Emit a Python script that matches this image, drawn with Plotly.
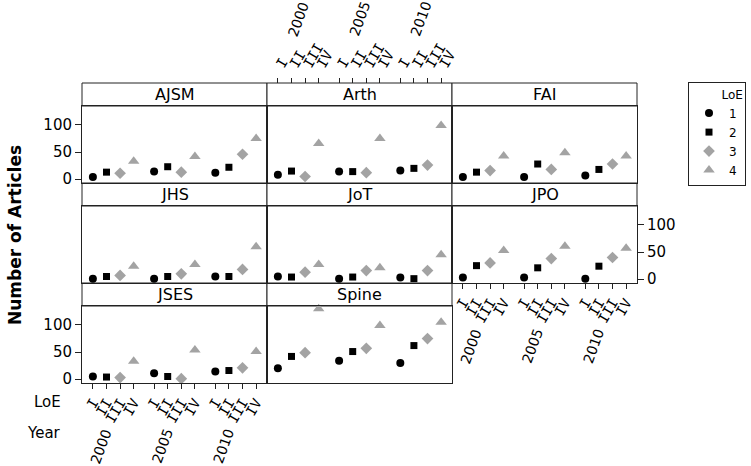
import plotly.graph_objects as go

# ---------------- data ----------------
journals = ["AJSM", "Arth", "FAI", "JHS", "JoT", "JPO", "JSES", "Spine"]
years = [2000, 2005, 2010]
loe_ticks = ["I", "II", "III", "IV"]
loe_names = ["1", "2", "3", "4"]
y_ticks = [0, 50, 100]

# number of articles: one list per year, entries for LoE 1..4
AJSM = [[4, 13, 11, 33], [14, 23, 13, 42], [12, 22, 46, 75]]
Arth = [[8, 15, 5, 66], [14, 14, 12, 75], [16, 20, 26, 99]]
FAI = [[4, 13, 16, 43], [4, 28, 18, 49], [7, 18, 28, 43]]
JHS = [[1, 5, 7, 24], [1, 5, 10, 27], [5, 5, 18, 60]]
JoT = [[5, 4, 13, 27], [1, 4, 16, 21], [3, 1, 16, 45]]
JPO = [[3, 25, 30, 53], [3, 21, 38, 61], [1, 24, 40, 57]]
JSES = [[5, 4, 3, 33], [11, 5, 1, 54], [14, 16, 21, 51]]
Spine = [[20, 42, 49, 130], [34, 51, 57, 99], [30, 62, 75, 105]]
values = [AJSM, Arth, FAI, JHS, JoT, JPO, JSES, Spine]

# ---------------- styling ----------------
W, H = 751, 466
FONT = "DejaVu Sans"
MONO = "DejaVu Sans Mono"
LINE = "#222222"
GRAY = "#a3a3a3"
symbols = ["circle", "square", "diamond", "triangle-up"]
colors = ["black", "black", GRAY, GRAY]
sizes = [8, 7, 9, 10]

GROUP_STEP = 4.5
X_RANGE = [-0.8, 12.8]
def xpos(yi, li):
    return yi * GROUP_STEP + li

tick_x = [xpos(yi, li) for yi in range(len(years)) for li in range(len(loe_ticks))]
tick_t = [loe_ticks[li] for yi in range(len(years)) for li in range(len(loe_ticks))]
group_centers = [xpos(yi, 1.5) for yi in range(len(years))]

COL_X0, COL_W = 82, 185
ROW_Y0, STRIP_H, PLOT_H = 83, 23, 77
ROW_H = STRIP_H + PLOT_H

fig = go.Figure()
layout = {}
shapes = []
annotations = []

loe_tickfont = dict(family=MONO, size=14, color="black")

for k, name in enumerate(journals):
    r, c = divmod(k, 3)
    xid = "x" if k == 0 else f"x{k+1}"
    yid = "y" if k == 0 else f"y{k+1}"
    xkey = "xaxis" if k == 0 else f"xaxis{k+1}"
    ykey = "yaxis" if k == 0 else f"yaxis{k+1}"

    px0 = COL_X0 + COL_W * c
    px1 = px0 + COL_W
    strip_top = ROW_Y0 + ROW_H * r
    plot_top = strip_top + STRIP_H
    plot_bot = plot_top + PLOT_H

    for li in range(4):
        xs = [xpos(yi, li) for yi in range(len(years))]
        ys = [values[k][yi][li] for yi in range(len(years))]
        fig.add_trace(go.Scatter(
            x=xs, y=ys, mode="markers", xaxis=xid, yaxis=yid,
            name=loe_names[li], legendgroup=loe_names[li], showlegend=(k == 0),
            cliponaxis=False,
            marker=dict(symbol=symbols[li], color=colors[li], size=sizes[li],
                        line=dict(width=0)),
            hoverinfo="skip"))

    xa = dict(domain=[px0 / W, px1 / W], range=X_RANGE, anchor=yid,
              showgrid=False, zeroline=False, showline=True, mirror=True,
              linecolor=LINE, linewidth=1, tickvals=tick_x, ticktext=tick_t,
              ticks="", showticklabels=False, tickangle=-60,
              tickfont=loe_tickfont,
              ticklen=5, tickcolor=LINE, automargin=False, fixedrange=True)
    if name in ("JSES", "JPO"):
        xa.update(side="bottom", ticks="outside", showticklabels=True)

    ya = dict(domain=[1 - plot_bot / H, 1 - plot_top / H], range=[-7, 135],
              anchor=xid, showgrid=False, zeroline=False, showline=True,
              mirror=True, linecolor=LINE, linewidth=1, tickvals=y_ticks,
              ticks="", showticklabels=False,
              tickfont=dict(family=FONT, size=15, color="black"),
              ticklen=6, tickcolor=LINE, automargin=False, fixedrange=True)
    if name in ("AJSM", "JSES"):
        ya.update(side="left", ticks="outside", showticklabels=True)
    if name == "JPO":
        ya.update(side="right", ticks="outside", showticklabels=True)

    layout[xkey] = xa
    layout[ykey] = ya

    # top axis above the Arth strip (overlaying axis positioned at strip top)
    if name == "Arth":
        layout["xaxis9"] = dict(overlaying=xid, anchor="free",
                                position=1 - strip_top / H, side="top",
                                range=X_RANGE, showgrid=False, zeroline=False,
                                showline=False, tickvals=tick_x, ticktext=tick_t,
                                ticks="outside", ticklen=5, tickcolor=LINE,
                                tickangle=-60, tickfont=loe_tickfont,
                                automargin=False, fixedrange=True)
        fig.add_trace(go.Scatter(x=tick_x, y=[None] * len(tick_x), xaxis="x9",
                                 yaxis=yid, mode="markers", showlegend=False,
                                 hoverinfo="skip"))

    # strip
    shapes.append(dict(type="rect", xref="paper", yref="paper",
                       x0=px0 / W, x1=px1 / W,
                       y0=1 - plot_top / H, y1=1 - strip_top / H,
                       line=dict(color=LINE, width=1), fillcolor="white",
                       layer="below"))
    annotations.append(dict(text=name, xref="paper", yref="paper",
                            x=(px0 + px1) / 2 / W,
                            y=1 - (strip_top + STRIP_H / 2) / H,
                            showarrow=False, xanchor="center", yanchor="middle",
                            font=dict(family=FONT, size=16, color="black")))

    # year labels
    if name in ("JSES", "JPO"):
        ypix = plot_bot + 41
        for yi, yr in enumerate(years):
            annotations.append(dict(text=str(yr), xref=xid, yref="paper",
                                    x=group_centers[yi], y=1 - ypix / H,
                                    xshift=-12, showarrow=False, textangle=-70,
                                    xanchor="center", yanchor="top",
                                    font=dict(family=FONT, size=14, color="black")))
    if name == "Arth":
        ypix = strip_top - 42
        for yi, yr in enumerate(years):
            annotations.append(dict(text=str(yr), xref=xid, yref="paper",
                                    x=group_centers[yi], y=1 - ypix / H,
                                    showarrow=False, textangle=-70,
                                    xanchor="center", yanchor="bottom",
                                    font=dict(family=FONT, size=14, color="black")))

# row labels at bottom left
annotations.append(dict(text="LoE", xref="paper", yref="paper", x=63 / W, y=1 - 402 / H,
                        showarrow=False, xanchor="right", yanchor="middle",
                        font=dict(family=FONT, size=15, color="black")))
annotations.append(dict(text="Year", xref="paper", yref="paper", x=63 / W, y=1 - 433 / H,
                        showarrow=False, xanchor="right", yanchor="middle",
                        font=dict(family=FONT, size=15, color="black")))
# y title
annotations.append(dict(text="<b>Number of Articles</b>", xref="paper", yref="paper",
                        x=15 / W, y=1 - 235 / H, showarrow=False, textangle=-90,
                        xanchor="center", yanchor="middle",
                        font=dict(family=FONT, size=17, color="black")))

fig.update_layout(
    width=W, height=H, margin=dict(l=0, r=0, t=0, b=0),
    paper_bgcolor="white", plot_bgcolor="white",
    shapes=shapes, annotations=annotations,
    showlegend=True,
    legend=dict(x=688 / W, y=1 - 82 / H, xanchor="left", yanchor="top",
                bordercolor=LINE, borderwidth=1, bgcolor="white",
                itemwidth=30,
                title=dict(text="&nbsp;&nbsp;&nbsp;&nbsp;&nbsp;&nbsp;&nbsp;&nbsp;LoE", side="top",
                           font=dict(family=FONT, size=12, color="black")),
                font=dict(family=FONT, size=12, color="black"),
                tracegroupgap=0),
    **layout)

fig.write_html("out.html", config={"displayModeBar": False},
               post_script="document.body.style.margin='0';document.body.style.overflow='hidden';")
